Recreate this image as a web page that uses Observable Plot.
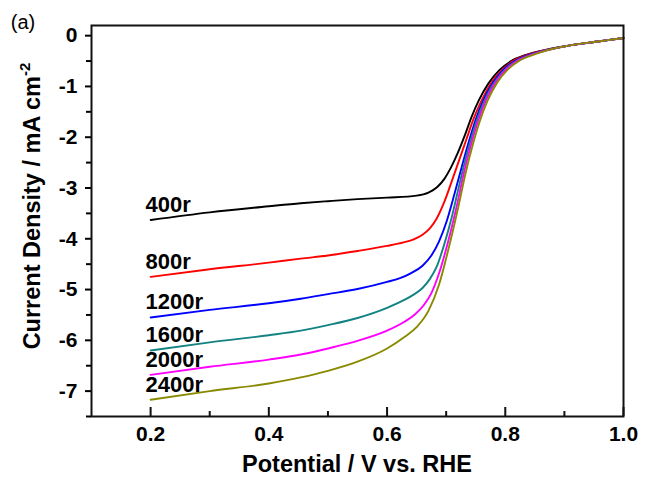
<!DOCTYPE html>
<html><head><meta charset="utf-8">
<script src="https://cdn.jsdelivr.net/npm/d3@7"></script>
<script src="https://cdn.jsdelivr.net/npm/@observablehq/plot@0.6"></script>
<style>body{margin:0;background:#fff}</style>
</head><body><div id="chart"></div>
<script>
const seriesNames = ["400r", "800r", "1200r", "1600r", "2000r", "2400r"];
const seriesColors = ["#000000", "#ff0000", "#0000ff", "#128282", "#ff00ff", "#8a8a00"];

const r400 = [[0.2,-3.63],[0.3,-3.48],[0.4,-3.36],[0.454,-3.30],[0.5,-3.26],[0.55,-3.22],[0.6,-3.19],[0.65,-3.15],[0.67,-3.09],[0.685,-2.98],[0.697,-2.82],[0.708,-2.6],[0.72,-2.3],[0.732,-1.95],[0.743,-1.6],[0.755,-1.28],[0.771,-0.95],[0.79,-0.68],[0.81,-0.5],[0.835,-0.38],[0.86,-0.3],[0.905,-0.2],[0.96,-0.11],[1.0,-0.045]];
const r800 = [[0.2,-4.75],[0.3,-4.60],[0.4,-4.47],[0.454,-4.39],[0.5,-4.33],[0.55,-4.24],[0.6,-4.14],[0.628,-4.07],[0.645,-4.01],[0.66,-3.92],[0.672,-3.80],[0.684,-3.60],[0.697,-3.27],[0.71,-2.85],[0.722,-2.45],[0.734,-2.05],[0.746,-1.65],[0.759,-1.3],[0.775,-0.95],[0.794,-0.68],[0.813,-0.5],[0.837,-0.38],[0.862,-0.3],[0.905,-0.2],[0.96,-0.11],[1.0,-0.045]];
const r1200 = [[0.2,-5.55],[0.3,-5.40],[0.4,-5.27],[0.454,-5.18],[0.5,-5.09],[0.55,-4.99],[0.6,-4.85],[0.623,-4.77],[0.64,-4.68],[0.66,-4.53],[0.675,-4.33],[0.688,-4.05],[0.701,-3.65],[0.714,-3.12],[0.726,-2.6],[0.738,-2.1],[0.75,-1.65],[0.763,-1.27],[0.779,-0.93],[0.797,-0.67],[0.816,-0.5],[0.84,-0.38],[0.864,-0.3],[0.905,-0.2],[0.96,-0.11],[1.0,-0.045]];
const r1600 = [[0.2,-6.20],[0.3,-6.04],[0.4,-5.90],[0.454,-5.81],[0.5,-5.70],[0.55,-5.56],[0.6,-5.36],[0.63,-5.2],[0.645,-5.1],[0.66,-4.97],[0.672,-4.8],[0.684,-4.55],[0.697,-4.1],[0.71,-3.55],[0.722,-2.95],[0.733,-2.42],[0.745,-1.92],[0.757,-1.5],[0.77,-1.15],[0.786,-0.85],[0.803,-0.63],[0.82,-0.49],[0.843,-0.38],[0.865,-0.3],[0.905,-0.2],[0.96,-0.11],[1.0,-0.045]];
const r2000 = [[0.2,-6.68],[0.3,-6.52],[0.4,-6.38],[0.454,-6.28],[0.5,-6.16],[0.55,-6.01],[0.6,-5.81],[0.63,-5.63],[0.647,-5.49],[0.662,-5.31],[0.675,-5.07],[0.688,-4.68],[0.703,-4.07],[0.718,-3.35],[0.73,-2.7],[0.742,-2.15],[0.754,-1.68],[0.767,-1.28],[0.783,-0.93],[0.801,-0.67],[0.82,-0.5],[0.844,-0.38],[0.866,-0.3],[0.905,-0.2],[0.96,-0.11],[1.0,-0.045]];
const r2400 = [[0.2,-7.17],[0.3,-7.0],[0.4,-6.85],[0.454,-6.73],[0.5,-6.60],[0.55,-6.42],[0.6,-6.16],[0.63,-5.93],[0.65,-5.74],[0.67,-5.42],[0.688,-4.9],[0.705,-4.15],[0.721,-3.35],[0.733,-2.7],[0.745,-2.15],[0.757,-1.68],[0.77,-1.28],[0.786,-0.93],[0.804,-0.67],[0.823,-0.5],[0.847,-0.38],[0.868,-0.3],[0.905,-0.2],[0.96,-0.11],[1.0,-0.045]];

const xMajor = [0.2, 0.4, 0.6, 0.8, 1.0];
const xMinor = [0.3, 0.5, 0.7, 0.9];
const yMajor = [0, -1, -2, -3, -4, -5, -6, -7];
const yMinor = [-0.5, -1.5, -2.5, -3.5, -4.5, -5.5, -6.5, -7.5];

const allSeries = [r400, r800, r1200, r1600, r2000, r2400];
const rows = allSeries.flatMap((s, i) => s.map(([x, y]) => ({name: seriesNames[i], x, y})));
const labels = allSeries.map((s, i) => ({name: seriesNames[i], x: s[0][0], y: s[0][1]}));

const W = 657, H = 485, mT = 25, mB = 69, mL = 91, mR = 34;
const innerH = H - mT - mB;

const plot = Plot.plot({
  width: W, height: H,
  marginLeft: mL, marginRight: mR, marginTop: mT, marginBottom: mB,
  style: {fontFamily: "'Liberation Sans', Arial, sans-serif", fontSize: "21px", fontWeight: "bold", color: "#000", background: "#fff"},
  x: {domain: [0.1, 1.0], label: null},
  y: {domain: [-7.5, 0.2], label: null},
  color: {domain: seriesNames, range: seriesColors},
  marks: [
    Plot.line(rows, {x: "x", y: "y", z: "name", stroke: "name", curve: "monotone-x", strokeWidth: 1.9}),
    Plot.ruleX(xMajor, {x: d => d, insetTop: innerH - 9, stroke: "#111", strokeWidth: 2}),
    Plot.ruleX(xMinor, {x: d => d, insetTop: innerH - 5, stroke: "#111", strokeWidth: 2}),
    Plot.axisX(xMajor, {tickSize: 0, tickPadding: 10, tickFormat: d => d.toFixed(1), label: null}),
    Plot.axisY(yMajor, {tickSize: 6, tickPadding: 8, tickFormat: d => String(d), strokeWidth: 2, label: null}),
    Plot.axisY(yMinor, {tickSize: 5, tickFormat: () => "", strokeWidth: 2, label: null}),
    Plot.frame({stroke: "#111", strokeWidth: 2}),
    Plot.text(labels, {x: "x", y: "y", text: "name", textAnchor: "start", lineAnchor: "bottom", dx: -5, dy: -8, fontSize: 22, fontWeight: "bold", fill: "#000"})
  ]
});

const svg = d3.select(plot);
svg.append("text").attr("x", 23).attr("y", 29)
  .style("font-size", "20px").style("font-weight", "normal").attr("fill", "#000").text("(a)");
svg.append("text").attr("x", (mL + W - mR) / 2).attr("y", 472)
  .attr("text-anchor", "middle").style("font-size", "23.5px").style("font-weight", "bold").attr("fill", "#000")
  .text("Potential / V vs. RHE");
const yl = svg.append("text").attr("transform", "translate(40,206) rotate(-90)")
  .attr("text-anchor", "middle").style("font-size", "23.5px").style("font-weight", "bold").attr("fill", "#000");
yl.append("tspan").text("Current Density / mA cm");
yl.append("tspan").attr("dy", -10).style("font-size", "15px").text("-2");

document.getElementById("chart").appendChild(plot);
</script>
</body></html>
